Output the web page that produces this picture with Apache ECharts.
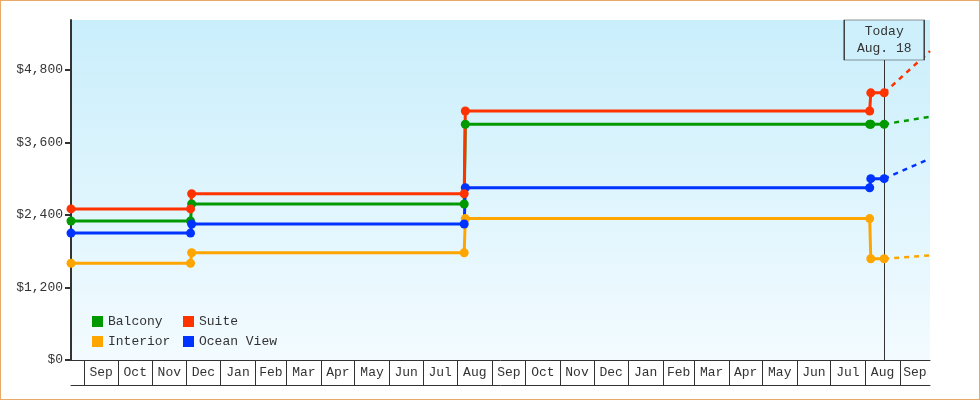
<!DOCTYPE html>
<html>
<head>
<meta charset="utf-8">
<script src="https://cdn.jsdelivr.net/npm/echarts@6/dist/echarts.min.js"></script>
<style>
  html, body { margin: 0; padding: 0; background: #fff; }
  #frame { width: 978px; height: 398px; border: 1px solid #e8aa66; position: relative; }
  #chart { position: absolute; left: -1px; top: -1px; width: 980px; height: 400px; }
</style>
</head>
<body>
<div id="frame"><div id="chart"></div></div>
<script>
// ---- data ----
const dates     = ['2021-08-20', '2021-12-05', '2021-12-06', '2022-08-07', '2022-08-08', '2023-08-05', '2023-08-06', '2023-08-18'];
const balcony   = [2300, 2300, 2580, 2580, 3900, 3900, 3900, 3900];
const suite     = [2500, 2500, 2750, 2750, 4120, 4120, 4420, 4420];
const interior  = [1600, 1600, 1775, 1775, 2340, 2340, 1675, 1675];
const oceanView = [2100, 2100, 2250, 2250, 2850, 2850, 3000, 3000];

const forecastDates     = ['2023-08-18', '2023-09-28'];
const balconyForecast   = [3900, 4025];
const suiteForecast     = [4420, 5110];
const interiorForecast  = [1675, 1730];
const oceanViewForecast = [3000, 3330];

const todayDate  = '2023-08-18';
const todayLabel = ['Today', 'Aug. 18'];

const monthLabels = ['Sep','Oct','Nov','Dec','Jan','Feb','Mar','Apr','May','Jun','Jul','Aug',
                     'Sep','Oct','Nov','Dec','Jan','Feb','Mar','Apr','May','Jun','Jul','Aug','Sep'];
const firstMonth = [2021, 8];   // Sep 2021
const axisStart = '2021-08-20';
const axisEnd   = '2023-09-28';

const yTicks = [0, 1200, 2400, 3600, 4800];
const yMax = 5625;

// ---- helpers ----
function toMs(s) { const p = s.split('-').map(Number); return new Date(p[0], p[1] - 1, p[2]).getTime(); }
const axisStartMs = toMs(axisStart), axisEndMs = toMs(axisEnd);
const monthStarts = monthLabels.map((m, i) => new Date(firstMonth[0], firstMonth[1] + i, 1).getTime());
const labelPos = monthStarts.map((s, i) => {
  const next = new Date(firstMonth[0], firstMonth[1] + i + 1, 1).getTime();
  return (s + Math.min(next, axisEndMs)) / 2;
});
function pairs(xs, ys) { return xs.map((x, i) => [toMs(x), ys[i]]); }

const FONT = 'Liberation Mono, DejaVu Sans Mono, monospace';
const TXT = '#333';
const colors = { Balcony: '#009900', Suite: '#ff3300', Interior: '#ffa500', 'Ocean View': '#0033ff' };

function mainSeries(name, vals) {
  return {
    name, type: 'line', data: pairs(dates, vals), z: 3,
    symbol: 'circle', symbolSize: 9, showSymbol: true,
    lineStyle: { width: 3, color: colors[name] },
    itemStyle: { color: colors[name] },
    emphasis: { disabled: true }, animation: false
  };
}
function forecastSeries(name, vals) {
  return {
    name: name + ' forecast', type: 'line', data: pairs(forecastDates, vals), z: 2,
    symbol: 'none', showSymbol: false,
    lineStyle: { width: 2.5, color: colors[name], type: [5, 5] },
    emphasis: { disabled: true }, animation: false
  };
}

const chart = echarts.init(document.getElementById('chart'));
const series = [
  forecastSeries('Balcony', balconyForecast),
  forecastSeries('Suite', suiteForecast),
  forecastSeries('Interior', interiorForecast),
  forecastSeries('Ocean View', oceanViewForecast),
  mainSeries('Balcony', balcony),
  mainSeries('Interior', interior),
  mainSeries('Ocean View', oceanView),
  mainSeries('Suite', suite)
];
series[0].z = 1;
series[0].markLine = {
  silent: true, symbol: 'none', animation: false, z: 1,
  lineStyle: { color: '#333', width: 1, type: 'solid' },
  label: { show: false },
  data: [{ xAxis: toMs(todayDate) }]
};
series[series.length - 1].markPoint = {
  silent: true, animation: false, z: 6,
  data: [{ coord: [toMs(todayDate), yMax] }],
  symbol: 'rect', symbolSize: [80, 40], symbolOffset: [0, 20],
  itemStyle: { color: '#cdf0fc', borderColor: '#333', borderWidth: 1 },
  label: {
    show: true, position: 'inside', formatter: todayLabel.join('\n'),
    color: TXT, fontFamily: FONT, fontSize: 13, lineHeight: 17
  }
};

const legendCommon = {
  orient: 'vertical', top: 315, padding: 0, itemWidth: 11, itemHeight: 11, itemGap: 7, icon: 'rect',
  selectedMode: false,
  textStyle: { color: TXT, fontFamily: FONT, fontSize: 13, lineHeight: 13 }
};

chart.setOption({
  animation: false,
  textStyle: { fontFamily: FONT },
  grid: {
    left: 71, right: 50, top: 20, bottom: 40, containLabel: false, outerBoundsMode: 'none',
    show: true, borderWidth: 0,
    backgroundColor: new echarts.graphic.LinearGradient(0, 0, 0, 1, [
      { offset: 0, color: '#c9eefb' }, { offset: 1, color: '#f3fbff' }
    ])
  },
  legend: [
    Object.assign({}, legendCommon, { left: 92, data: ['Balcony', 'Interior'] }),
    Object.assign({}, legendCommon, { left: 183, data: ['Suite', 'Ocean View'] })
  ],
  xAxis: [{
    type: 'value', min: axisStartMs, max: axisEndMs, position: 'bottom', scale: true,
    axisLine: { show: true, onZero: false, lineStyle: { color: '#333', width: 1 } },
    axisTick: { show: true, customValues: monthStarts, length: 25, lineStyle: { color: '#333', width: 1 } },
    axisLabel: {
      show: true, customValues: labelPos, margin: 6, hideOverlap: false,
      showMinLabel: true, showMaxLabel: true,
      color: TXT, fontFamily: FONT, fontSize: 13,
      formatter: (v) => {
        let best = 0, d = Infinity;
        labelPos.forEach((p, i) => { const dd = Math.abs(p - v); if (dd < d) { d = dd; best = i; } });
        return monthLabels[best];
      }
    },
    splitLine: { show: false }, minorTick: { show: false }
  }, {
    type: 'value', min: axisStartMs, max: axisEndMs, position: 'bottom', offset: 25, scale: true,
    axisLine: { show: true, onZero: false, lineStyle: { color: '#333', width: 1 } },
    axisTick: { show: false }, axisLabel: { show: false }, splitLine: { show: false }
  }],
  yAxis: {
    type: 'value', min: 0, max: yMax,
    axisLine: { show: true, lineStyle: { color: '#333', width: 2 } },
    axisTick: { show: true, customValues: yTicks, length: 6, lineStyle: { color: '#333', width: 2 } },
    axisLabel: {
      show: true, customValues: yTicks, margin: 8, color: TXT, fontFamily: FONT, fontSize: 13,
      formatter: (v) => '$' + Number(v).toLocaleString('en-US')
    },
    splitLine: { show: false }
  },
  series
});
</script>
</body>
</html>
